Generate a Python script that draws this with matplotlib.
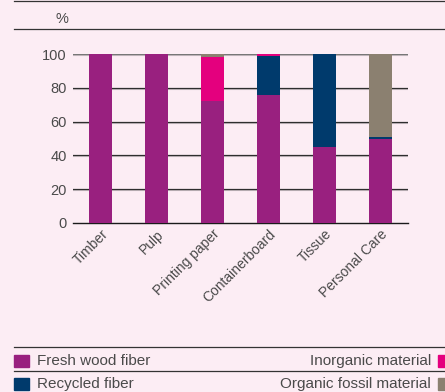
import matplotlib
matplotlib.use("Agg")
import matplotlib.pyplot as plt
from matplotlib.lines import Line2D
from matplotlib.patches import Rectangle
import numpy as np

plt.rcParams['font.family'] = ['Liberation Sans', 'DejaVu Sans']

""" Data """
categories = ["Timber", "Pulp", "Printing paper", "Containerboard", "Tissue", "Personal Care"]
fresh_wood = [100, 100, 72, 76, 45, 49.5]
recycled = [0, 0, 0, 23, 55, 1.5]
inorganic = [0, 0, 26, 1, 0, 0]
fossil = [0, 0, 2, 0, 0, 49]
y_ticks = [0, 20, 40, 60, 80, 100]

""" Style """
BG = "#fcedf4"
TXT = "#4a4a4a"
C_FRESH = "#99207f"
C_RECYCLED = "#003a6c"
C_INORG = "#e4007e"
C_FOSSIL = "#8b8070"

W, H = 445, 392
fig = plt.figure(figsize=(W / 100, H / 100), dpi=100, facecolor=BG)


def fx(px):
    return px / W


def fy(py):
    return 1 - py / H


ax = fig.add_axes([fx(73), fy(223), fx(335), 169 / H])
ax.set_facecolor(BG)

x = np.arange(len(categories))
bw = 0.41
bottom = np.zeros(len(categories))
for vals, col in [(fresh_wood, C_FRESH), (recycled, C_RECYCLED),
                  (inorganic, C_INORG), (fossil, C_FOSSIL)]:
    ax.bar(x, vals, bw, bottom=bottom, color=col, zorder=3)
    bottom += np.array(vals)

ax.set_xlim(-0.5, len(categories) - 0.5)
ax.set_ylim(0, 100)
ax.set_yticks(y_ticks)
ax.set_yticklabels([str(t) for t in y_ticks], fontsize=10.5, color=TXT)
for t in y_ticks[1:]:
    # light shadow under each grid line, like the reference
    ax.axhline(t - 0.6, color="#c8bcc2", lw=0.8, zorder=1)
    ax.axhline(t, color="#2e2e2e" if t < 100 else "#777777", lw=0.9, zorder=1)
ax.tick_params(axis='y', length=0, pad=4.5)
ax.tick_params(axis='x', length=0, pad=3)
ax.set_xticks(x)
ax.set_xticklabels(categories, rotation=45, ha='right', va='top',
                   rotation_mode='anchor', fontsize=10, color=TXT)
for s in ['left', 'right', 'top']:
    ax.spines[s].set_visible(False)
ax.spines['bottom'].set_color("#1a1a1a")
ax.spines['bottom'].set_linewidth(1.0)

# header lines and unit
for py in [1, 29, 347, 371]:
    fig.add_artist(Line2D([fx(14), 1], [fy(py), fy(py)], color="#333333", lw=0.9))
fig.text(fx(55), fy(19), "%", fontsize=10.5, color=TXT, va='center', ha='left')

# legend
def legend_item(label, color, py, right=False):
    if right:
        fig.add_artist(Rectangle((fx(438), fy(py + 6)), fx(12), 12 / H,
                                 color=color, transform=fig.transFigure))
        fig.text(fx(431), fy(py), label, fontsize=11, color=TXT, ha='right', va='center')
    else:
        fig.add_artist(Rectangle((fx(14), fy(py + 6)), fx(15), 12 / H,
                                 color=color, transform=fig.transFigure))
        fig.text(fx(37), fy(py), label, fontsize=11, color=TXT, ha='left', va='center')


legend_item("Fresh wood fiber", C_FRESH, 361)
legend_item("Inorganic material", C_INORG, 361, right=True)
legend_item("Recycled fiber", C_RECYCLED, 384)
legend_item("Organic fossil material", C_FOSSIL, 384, right=True)

fig.savefig("out.png", dpi=100, facecolor=BG)
